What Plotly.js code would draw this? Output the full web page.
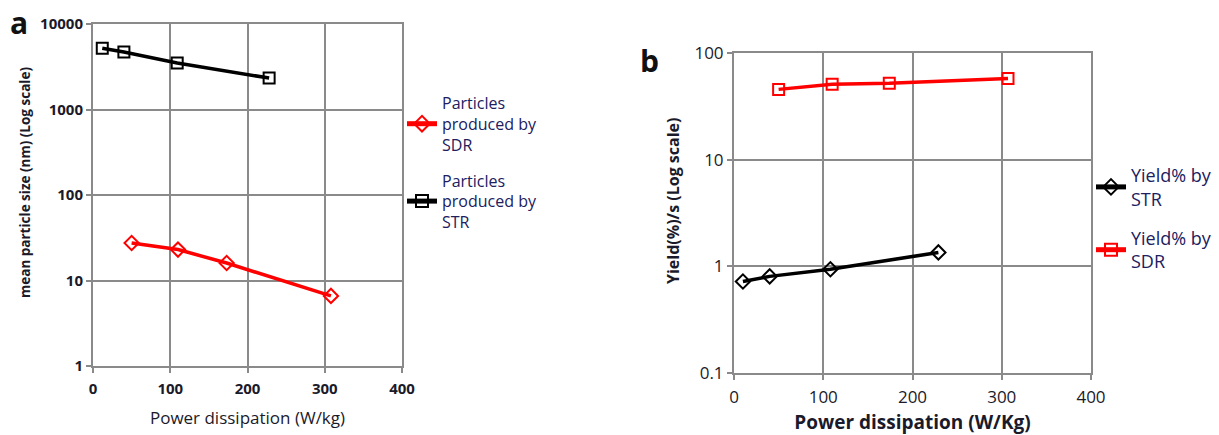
<!DOCTYPE html>
<html><head><meta charset="utf-8">
<script src="https://cdn.plot.ly/plotly-3.0.1.min.js"></script>
<style>html,body{margin:0;padding:0;background:#fff}#chart{width:1219px;height:435px}</style>
</head><body><div id="chart"></div>
<script>
// Panel a
const aSTR_x = [12, 40, 109, 228];
const aSTR_y = [5200, 4700, 3500, 2330];
const aSDR_x = [50, 110, 173, 308];
const aSDR_y = [27.5, 23, 16, 6.6];
const aYTickVals = [1, 10, 100, 1000, 10000];
const aYTickText = ['1', '10', '100', '1000', '10000'];
// Panel b
const bSTR_x = [10, 40, 108, 229];
const bSTR_y = [0.72, 0.805, 0.94, 1.35];
const bSDR_x = [50, 110, 174, 307];
const bSDR_y = [45.6, 51, 52, 57.6];
const bYTickVals = [0.1, 1, 10, 100];
const bYTickText = ['0.1', '1', '10', '100'];
const xTickVals = [0, 100, 200, 300, 400];

const W = 1219, H = 435;
const gridC = '#8a8a8a';
const fontF = 'Open Sans, Noto Sans, sans-serif';
const txtC = '#1a1a2a';

const traces = [
  {x: aSDR_x, y: aSDR_y, xaxis: 'x', yaxis: 'y', mode: 'lines+markers', name: 'Particles<br>produced by<br>SDR', legendgroup: 'a1',
   line: {color: '#ff0000', width: 3.5}, marker: {symbol: 'diamond-open', size: 11, color: '#ff0000', line: {width: 2}}, legend: 'legend'},
  {x: aSTR_x, y: aSTR_y, xaxis: 'x', yaxis: 'y', mode: 'lines+markers', name: 'Particles<br>produced by<br>STR', legendgroup: 'a2',
   line: {color: '#000000', width: 3.5}, marker: {symbol: 'square-open', size: 11, color: '#000000', line: {width: 2}}, legend: 'legend'},
  {x: bSTR_x, y: bSTR_y, xaxis: 'x2', yaxis: 'y2', mode: 'lines+markers', name: 'Yield% by<br>STR', legendgroup: 'b1',
   line: {color: '#000000', width: 3.5}, marker: {symbol: 'diamond-open', size: 11, color: '#000000', line: {width: 2}}, legend: 'legend2'},
  {x: bSDR_x, y: bSDR_y, xaxis: 'x2', yaxis: 'y2', mode: 'lines+markers', name: 'Yield% by<br>SDR', legendgroup: 'b2',
   line: {color: '#ff0000', width: 3.5}, marker: {symbol: 'square-open', size: 11, color: '#ff0000', line: {width: 2}}, legend: 'legend2'}
];

function xax(dom, anchor, size, bold) {
  return {domain: dom, anchor: anchor, range: [0, 400], tickvals: xTickVals, ticktext: xTickVals.map(String),
    showgrid: true, gridcolor: gridC, gridwidth: 2, showline: true, linecolor: gridC, linewidth: 2, mirror: true,
    ticks: 'outside', ticklen: 5, tickcolor: gridC, tickwidth: 2, zeroline: false, ticklabelstandoff: 3,
    tickfont: {family: fontF, size: size, color: txtC, weight: bold ? 'bold' : 'normal'}};
}
function yax(dom, anchor, range, vals, text, size, bold) {
  return {domain: dom, anchor: anchor, type: 'log', range: range, tickvals: vals, ticktext: text,
    showgrid: true, gridcolor: gridC, gridwidth: 2, showline: true, linecolor: gridC, linewidth: 2, mirror: true,
    ticks: 'outside', ticklen: 5, tickcolor: gridC, tickwidth: 2, zeroline: false,
    tickfont: {family: fontF, size: size, color: txtC, weight: bold ? 'bold' : 'normal'}};
}

const layout = {
  width: W, height: H, margin: {l: 0, r: 0, t: 0, b: 0}, paper_bgcolor: '#fff', plot_bgcolor: '#fff',
  xaxis: Object.assign(xax([93/W, 402/W], 'y', 15, true), {title: {text: 'Power dissipation (W/kg)', font: {family: fontF, size: 17, color: txtC}, standoff: 15}}),
  yaxis: yax([1-366/H, 1-24/H], 'x', [0, 4], aYTickVals, aYTickText, 15, true),
  xaxis2: Object.assign(xax([734/W, 1091/W], 'y2', 17, false), {title: {text: 'Power dissipation (W/Kg)', font: {family: fontF, size: 19, color: txtC, weight: 'bold'}, standoff: 14}}),
  yaxis2: yax([1-373/H, 1-53/H], 'x2', [-1, 2], bYTickVals, bYTickText, 17, false),
  legend: {x: 402/W, y: 1-86/H, xanchor: 'left', yanchor: 'top', bgcolor: 'rgba(0,0,0,0)', tracegroupgap: 12, traceorder: 'grouped',
    font: {family: fontF, size: 16, color: '#202060'}, itemwidth: 30, itemsizing: 'constant'},
  legend2: {x: 1091/W, y: 1-157/H, xanchor: 'left', yanchor: 'top', bgcolor: 'rgba(0,0,0,0)', tracegroupgap: 13, traceorder: 'grouped',
    font: {family: fontF, size: 18, color: '#202060'}, itemwidth: 30, itemsizing: 'constant'},
  showlegend: true,
  annotations: [
    {text: 'a', x: 8/W, y: 1-22/H, xref: 'paper', yref: 'paper', xanchor: 'left', yanchor: 'middle', showarrow: false, font: {family: fontF, size: 30, color: '#111', weight: 'bold'}},
    {text: 'b', x: 638/W, y: 1-60/H, xref: 'paper', yref: 'paper', xanchor: 'left', yanchor: 'middle', showarrow: false, font: {family: fontF, size: 30, color: '#111', weight: 'bold'}},
    {text: 'mean particle size (nm) (Log scale)', textangle: -90, x: 25/W, y: 1-183/H, xref: 'paper', yref: 'paper', xanchor: 'center', yanchor: 'middle', showarrow: false, font: {family: fontF, size: 13.5, color: txtC, weight: 'bold'}},
    {text: 'Yield(%)/s (Log scale)', textangle: -90, x: 673/W, y: 1-201/H, xref: 'paper', yref: 'paper', xanchor: 'center', yanchor: 'middle', showarrow: false, font: {family: fontF, size: 16, color: txtC, weight: 'bold'}}
  ]
};
Plotly.newPlot('chart', traces, layout, {staticPlot: true});
</script></body></html>
